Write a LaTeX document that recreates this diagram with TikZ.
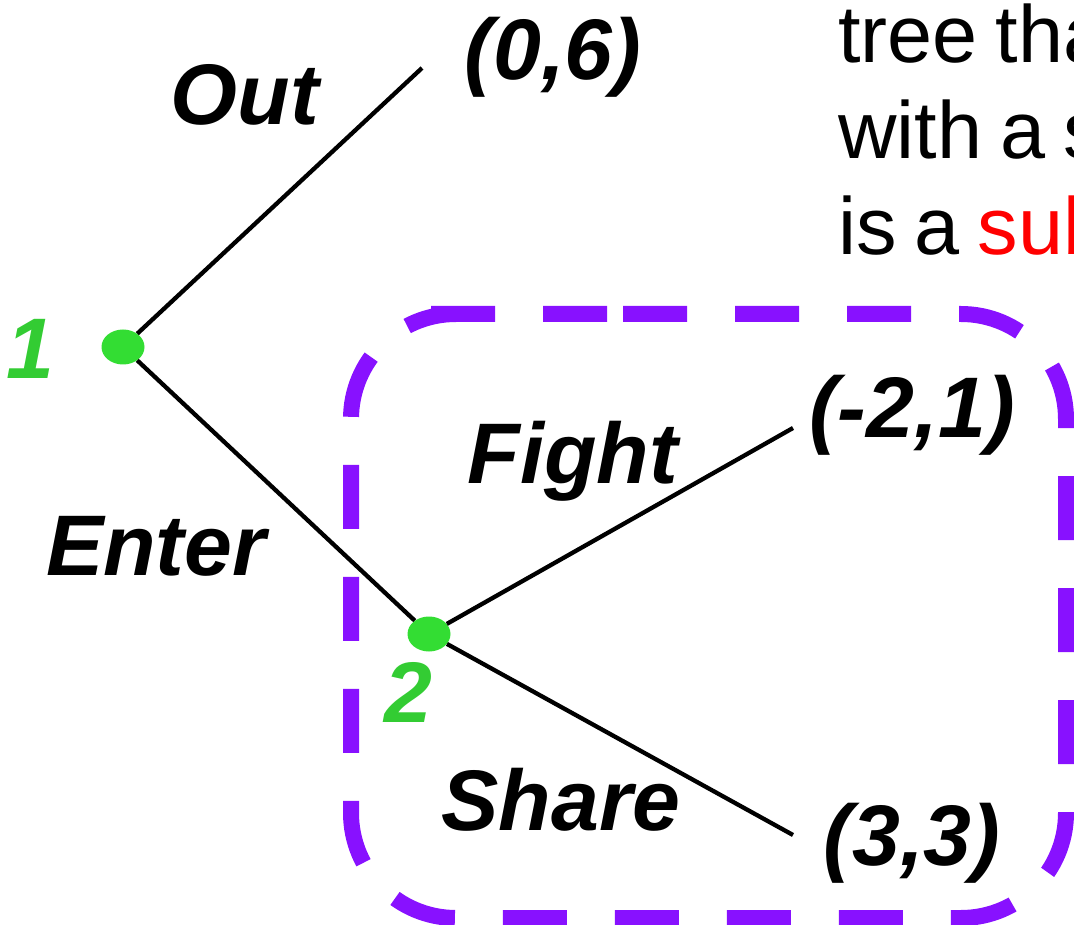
\documentclass[tikz,border=0pt]{standalone}
\usepackage{fontspec}
\setmainfont{Liberation Sans}
\newfontfamily\notefont[WordSpace=0.8]{Liberation Sans}
\usetikzlibrary{shapes.geometric}
\definecolor{nodegreen}{RGB}{51,221,51}
\definecolor{labelgreen}{RGB}{51,204,51}
\definecolor{boxviolet}{RGB}{136,17,255}
\begin{document}
\begin{tikzpicture}[x=1pt,y=-1pt,
  dot/.style={ellipse,fill=nodegreen,minimum width=43pt,minimum height=35pt,inner sep=0pt},
  edge/.style={line width=4.3pt,black},
  lbl/.style={inner sep=0pt,anchor=base,font=\fontsize{86}{90}\selectfont\bfseries\itshape},
  plabel/.style={lbl,text=labelgreen},
  note/.style={inner sep=0pt,anchor=base west,font=\notefont\fontsize{81}{96}\selectfont},
  subbox/.style={line width=16pt,boxviolet,dash pattern=on 64pt off 48pt}]
\useasboundingbox (0,0) rectangle (1074,925);

% subgame frame
\draw[subbox,rounded corners=105pt]
  (518,314) -- (1066,314) -- (1066,918) -- (351,918) -- (351,314) -- cycle;

% decision nodes and payoff ends
\node[dot] (n1) at (123,347) {};
\node[dot] (n2) at (429,634) {};
\coordinate (out) at (422,68);
\coordinate (fight) at (793,428);
\coordinate (share) at (793,835);

\draw[edge] (n1) -- (out);
\draw[edge] (n1) -- (n2);
\draw[edge] (n2) -- (fight);
\draw[edge] (n2) -- (share);

% player labels
\node[plabel] (p1) at (30,378) {1};
\node[plabel] (p2) at (408,722) {2};

% action labels
\node[lbl] (aout) at (245,125) {Out};
\node[lbl] (aenter) at (156,575) {Enter};
\node[lbl] (afight) at (573,483) {Fight};
\node[lbl] (ashare) at (561,830) {Share};

% payoffs
\node[lbl] (pout) at (553,80) {(0,6)};
\node[lbl] (pfight) at (912,437) {(-2,1)};
\node[lbl] (pshare) at (912,865) {(3,3)};

% side note
\node[note] (t1) at (838,63) {tree that};
\node[note] (t2) at (838,159) {with a s};
\node[note] (t3) at (838,255) {is a \textcolor{red}{sub}};
\end{tikzpicture}
\end{document}
